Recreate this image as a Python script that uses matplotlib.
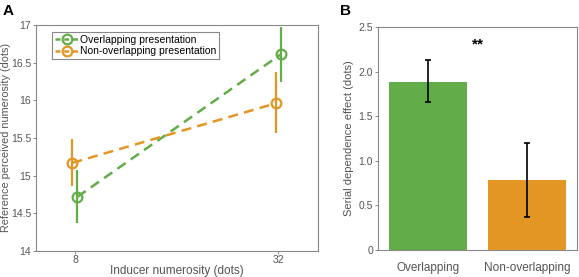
import matplotlib.pyplot as plt
from matplotlib.lines import Line2D

# panel A data
inducer = [8, 32]
overlap_mean = [14.72, 16.61]
overlap_lo = [14.37, 16.25]
overlap_hi = [15.08, 16.98]
nonover_mean = [15.17, 15.96]
nonover_lo = [14.86, 15.56]
nonover_hi = [15.49, 16.37]

# panel B data
conditions = ['Overlapping', 'Non-overlapping']
effect = [1.88, 0.78]
effect_lo = [1.66, 0.37]
effect_hi = [2.13, 1.20]

green = '#62ad47'
orange = '#e39624'
gray = '#555555'

plt.rcParams['font.family'] = 'Liberation Sans'

fig = plt.figure(figsize=(5.79, 2.77), dpi=100)
axA = fig.add_axes([36 / 579, 1 - 251 / 277, 282 / 579, 226 / 277])
axB = fig.add_axes([378 / 579, 1 - 250 / 277, 199 / 579, 223 / 277])

for ax in (axA, axB):
    for s in ax.spines.values():
        s.set_color('#888888')
        s.set_linewidth(0.8)
    ax.tick_params(colors='#888888', labelcolor=gray, labelsize=7.5, length=2, width=0.7, pad=1.5)

# panel A
xg = [x + 0.3 for x in inducer]
xo = [x - 0.3 for x in inducer]
style = dict(ls='--', lw=1.8, marker='o', ms=7, mfc='none', mew=1.6, dashes=(4, 2.5))
axA.errorbar(xg, overlap_mean,
             yerr=[[m - l for m, l in zip(overlap_mean, overlap_lo)],
                   [h - m for m, h in zip(overlap_mean, overlap_hi)]],
             color=green, elinewidth=1.6, capsize=0, **style)
axA.errorbar(xo, nonover_mean,
             yerr=[[m - l for m, l in zip(nonover_mean, nonover_lo)],
                   [h - m for m, h in zip(nonover_mean, nonover_hi)]],
             color=orange, elinewidth=1.6, capsize=0, **style)
axA.set_xlim(3.4, 36.7)
axA.set_ylim(14, 17)
axA.set_xticks(inducer)
axA.set_xticklabels([str(v) for v in inducer])
axA.tick_params(axis='x', pad=1)
axA.set_yticks([14, 14.5, 15, 15.5, 16, 16.5, 17])
axA.set_yticklabels(['14', '14.5', '15', '15.5', '16', '16.5', '17'])
axA.set_xlabel('Inducer numerosity (dots)', fontsize=8.5, color=gray, labelpad=0)
axA.set_ylabel('Reference perceived numerosity (dots)', fontsize=7.8, color=gray)
axA.yaxis.set_label_coords(-0.088, 0.5)
leg_style = dict(style, dashes=(2, 1.5))
handles = [Line2D([], [], color=green, **leg_style), Line2D([], [], color=orange, **leg_style)]
leg = axA.legend(handles, ['Overlapping presentation', 'Non-overlapping presentation'],
                 loc='upper left', bbox_to_anchor=(0.057, 0.969), fontsize=7.5,
                 frameon=True, fancybox=False, handlelength=2.3, handletextpad=0.1,
                 borderpad=0.25, labelspacing=0.15, borderaxespad=0, framealpha=1)
leg.get_frame().set_edgecolor('#888888')
leg.get_frame().set_linewidth(0.8)

# panel B
pos = [1, 2]
cols = [green, orange]
axB.bar(pos, effect, width=0.78, color=cols)
axB.errorbar(pos, effect,
             yerr=[[m - l for m, l in zip(effect, effect_lo)],
                   [h - m for m, h in zip(effect, effect_hi)]],
             fmt='none', ecolor='black', elinewidth=1.2, capsize=2.5, capthick=1.2)
axB.set_xlim(0.5, 2.5)
axB.set_ylim(0, 2.5)
axB.set_xticks(pos)
axB.set_xticklabels(conditions, fontsize=8.5)
axB.tick_params(axis='x', length=0, pad=9)
axB.set_yticks([0, 0.5, 1.0, 1.5, 2.0, 2.5])
axB.set_yticklabels(['0', '0.5', '1.0', '1.5', '2.0', '2.5'])
axB.set_ylabel('Serial dependence effect (dots)', fontsize=8, color=gray, labelpad=3)
axB.text(1.5, 2.3, '**', ha='center', va='center', fontsize=11, fontweight='bold')

fig.text(3 / 579, 1 - 11 / 277, 'A', fontsize=11, fontweight='bold', va='center')
fig.text(340 / 579, 1 - 11 / 277, 'B', fontsize=11, fontweight='bold', va='center')

fig.savefig('out.png', dpi=100)
